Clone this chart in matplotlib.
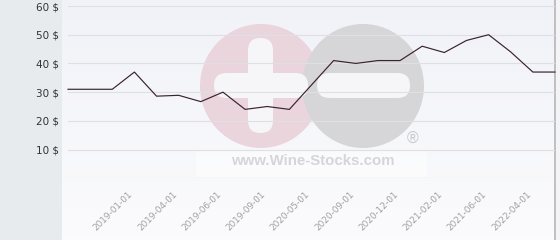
import matplotlib
matplotlib.use("Agg")
import matplotlib.pyplot as plt
import numpy as np
from matplotlib.patches import Ellipse, FancyBboxPatch, Rectangle
from matplotlib.ticker import FuncFormatter

# ---- data ----
categories = ["", "", "", "2019-01-01", "", "2019-04-01", "", "2019-06-01", "",
              "2019-09-01", "", "2020-05-01", "", "2020-09-01", "", "2020-12-01",
              "", "2021-02-01", "", "2021-06-01", "", "2022-04-01", ""]
prices = [31, 31, 31, 37, 28.6, 28.9, 26.7, 30, 24, 25, 24, 32.5, 41, 40, 41, 41,
          46, 43.8, 48, 50, 44, 37, 37]
y_ticks = [0, 10, 20, 30, 40, 50, 60]

W, H = 560, 240
fig = plt.figure(figsize=(W / 100, H / 100), dpi=100)

# ---- background layer (pixel coordinates) ----
bg = fig.add_axes([0, 0, 1, 1], zorder=0)
bg.set_xlim(0, W)
bg.set_ylim(H, 0)
bg.axis("off")
bg.add_patch(Rectangle((0, 0), 62, H, color="#e7ebee", lw=0))
grad = np.linspace(0, 1, 100).reshape(-1, 1)
top = np.array([0.945, 0.950, 0.970])
bot = np.array([0.985, 0.985, 0.993])
img = top + (bot - top) * grad[..., None]
img = np.repeat(img, 2, axis=1)
bg.imshow(img, extent=(62, 555, H, 0), aspect="auto", zorder=0.5)
bg.add_patch(Rectangle((555.5, 0), 4.5, H, color="#f4f4f6", lw=0))
bg.plot([555, 555], [0, H], color="#b5b5b8", lw=1.2, zorder=2)

# watermark
bg.add_patch(Ellipse((261, 86), 122, 124, color="#ead5dd", lw=0, zorder=1))
bg.add_patch(Ellipse((363, 86), 122, 124, color="#d6d6d8", lw=0, zorder=1.1))
bg.add_patch(FancyBboxPatch((248 + 12.5, 38 + 12.5), 0, 95 - 25,
                            boxstyle="round,pad=12.5", color="#f6f6f9", lw=0, zorder=1.2))
bg.add_patch(FancyBboxPatch((214 + 12.5, 73 + 12.5), 94 - 25, 0,
                            boxstyle="round,pad=12.5", color="#f6f6f9", lw=0, zorder=1.2))
bg.add_patch(FancyBboxPatch((317 + 12.5, 73 + 12.5), 93 - 25, 0,
                            boxstyle="round,pad=12.5", color="#f6f6f9", lw=0, zorder=1.2))
bg.add_patch(Rectangle((196, 150), 231, 27, color="white", alpha=0.45, lw=0, zorder=1.3))
bg.text(312.5, 161, "www.Wine-Stocks.com", ha="center", va="center",
        fontsize=10.8, fontweight="bold", color="#d6d6d9",
        family=["Liberation Sans", "DejaVu Sans"], zorder=1.4)
bg.text(413, 139, "\u00ae", ha="center", va="center", fontsize=11.5,
        color="#c8c8cb", family=["Liberation Sans", "DejaVu Sans"], zorder=1.4)

# ---- main chart ----
x0, x1 = 68, 555
y_top, y_bot = 6, 178.3
ax = fig.add_axes([x0 / W, 1 - y_bot / H, (x1 - x0) / W, (y_bot - y_top) / H], zorder=1)
ax.patch.set_alpha(0)
for s in ax.spines.values():
    s.set_visible(False)

xs = np.arange(len(prices))
ax.plot(xs, prices, color="#3b2131", lw=0.85, zorder=3, clip_on=False)

ax.set_xlim(0, len(prices) - 1)
ax.set_ylim(0, 60)
ax.set_yticks(y_ticks)
ax.yaxis.set_major_formatter(FuncFormatter(lambda v, p: "" if v == 0 else f"{int(v)} $"))
ax.grid(axis="y", color="#dfe0e4", lw=0.8)
ax.set_axisbelow(True)
ax.tick_params(axis="y", length=0, pad=6.5, labelsize=7.5, labelcolor="#333333")

ax.set_xticks(xs)
ax.set_xticklabels(categories, rotation=45, ha="right", va="top",
                   fontsize=6.4, color="#a0a0a3")
ax.tick_params(axis="x", length=0, pad=8)

fig.savefig("out.png", dpi=100)
